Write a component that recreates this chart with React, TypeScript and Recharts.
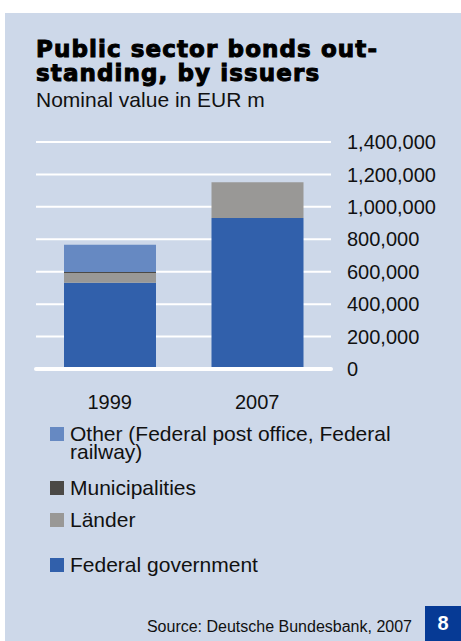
import React from 'react';
import { BarChart, Bar, XAxis, YAxis, CartesianGrid, ReferenceLine } from 'recharts';

const years = ['1999', '2007'];
const federal = [532000, 931000];
const laender = [60000, 221000];
const municipalities = [6000, 0];
const other = [168000, 0];
const yTicks = [0, 200000, 400000, 600000, 800000, 1000000, 1200000, 1400000];

const series = [
  { key: 'federal', name: 'Federal government', color: '#3160ab' },
  { key: 'laender', name: 'Länder', color: '#999896' },
  { key: 'municipalities', name: 'Municipalities', color: '#4b4946' },
  { key: 'other', name: 'Other (Federal post office, Federal railway)', color: '#6689c2' },
];

// legend is listed top-down, opposite to the stacking order
const legendTops = { other: 441, municipalities: 495, laender: 527, federal: 572 };

const FONT = '"Liberation Sans", Arial, sans-serif';

const data = years.map((year, i) => ({
  year,
  federal: federal[i],
  laender: laender[i],
  municipalities: municipalities[i],
  other: other[i],
}));

const YTick = (props: any) => {
  const { x, y, payload } = props;
  return (
    <text x={x} y={y} dy="0.36em" textAnchor="start" fontSize={20} fontFamily={FONT} fill="#111">
      {payload.value.toLocaleString('en-US')}
    </text>
  );
};

const XTick = (props: any) => {
  const { x, y, payload } = props;
  return (
    <text x={x} y={y} dy="0.71em" textAnchor="middle" fontSize={20} fontFamily={FONT} fill="#111">
      {payload.value}
    </text>
  );
};

export default function App() {
  return (
    <div style={{ position: 'absolute', left: 0, top: 0, width: 461, height: 641, background: '#fff', overflow: 'hidden' }}>
      <div style={{ position: 'absolute', left: 5, top: 13, width: 456, height: 628, background: '#cdd8e9' }} />

      <div
        style={{
          position: 'absolute',
          left: 36,
          top: 37,
          width: 420,
          fontFamily: '"DejaVu Sans", sans-serif',
          fontWeight: 700,
          fontSize: 23,
          lineHeight: '24px',
          letterSpacing: 1.1,
          color: '#000',
          WebkitTextStroke: '1px #000',
        }}
      >
        Public sector bonds out-
        <br />
        standing, by issuers
      </div>
      <div style={{ position: 'absolute', left: 36, top: 88, fontFamily: FONT, fontSize: 21, color: '#111', whiteSpace: 'nowrap' }}>
        Nominal value in EUR m
      </div>

      <div style={{ position: 'absolute', left: 0, top: 0 }}>
        <BarChart width={461} height={420} data={data} margin={{ top: 142, right: 10, left: 36, bottom: 11 }}>
          <CartesianGrid horizontal vertical={false} stroke="#ffffff" strokeWidth={2} />
          <XAxis
            dataKey="year"
            axisLine={false}
            tickLine={false}
            height={40}
            tickSize={6}
            tickMargin={20}
            tick={<XTick />}
          />
          <YAxis
            orientation="right"
            width={120}
            domain={[0, 1400000]}
            ticks={yTicks}
            interval={0}
            axisLine={false}
            tickLine={false}
            tickSize={6}
            tickMargin={10}
            tick={<YTick />}
          />
          {series.map((s) => (
            <Bar key={s.key} dataKey={s.key} name={s.name} stackId="a" fill={s.color} barSize={92} isAnimationActive={false} />
          ))}
          <ReferenceLine y={0} stroke="#ffffff" strokeWidth={4} strokeLinecap="round" />
        </BarChart>
      </div>

      {[...series].reverse().map((s) => {
        const base = legendTops[s.key as keyof typeof legendTops];
        return (
          <React.Fragment key={s.key}>
            <div style={{ position: 'absolute', left: 50, top: base - 14, width: 14, height: 14, background: s.color }} />
            <div
              style={{
                position: 'absolute',
                left: 70,
                top: base - 16.5,
                width: 340,
                fontFamily: FONT,
                fontSize: 21,
                lineHeight: '18.5px',
                color: '#111',
              }}
            >
              {s.name}
            </div>
          </React.Fragment>
        );
      })}

      <div style={{ position: 'absolute', right: 49, top: 618, fontFamily: FONT, fontSize: 16, color: '#111', whiteSpace: 'nowrap' }}>
        Source: Deutsche Bundesbank, 2007
      </div>
      <div
        style={{
          position: 'absolute',
          left: 425,
          top: 606,
          width: 36,
          height: 35,
          background: '#063a95',
          color: '#fff',
          fontFamily: FONT,
          fontWeight: 700,
          fontSize: 20,
          lineHeight: '35px',
          textAlign: 'center',
        }}
      >
        8
      </div>
    </div>
  );
}
